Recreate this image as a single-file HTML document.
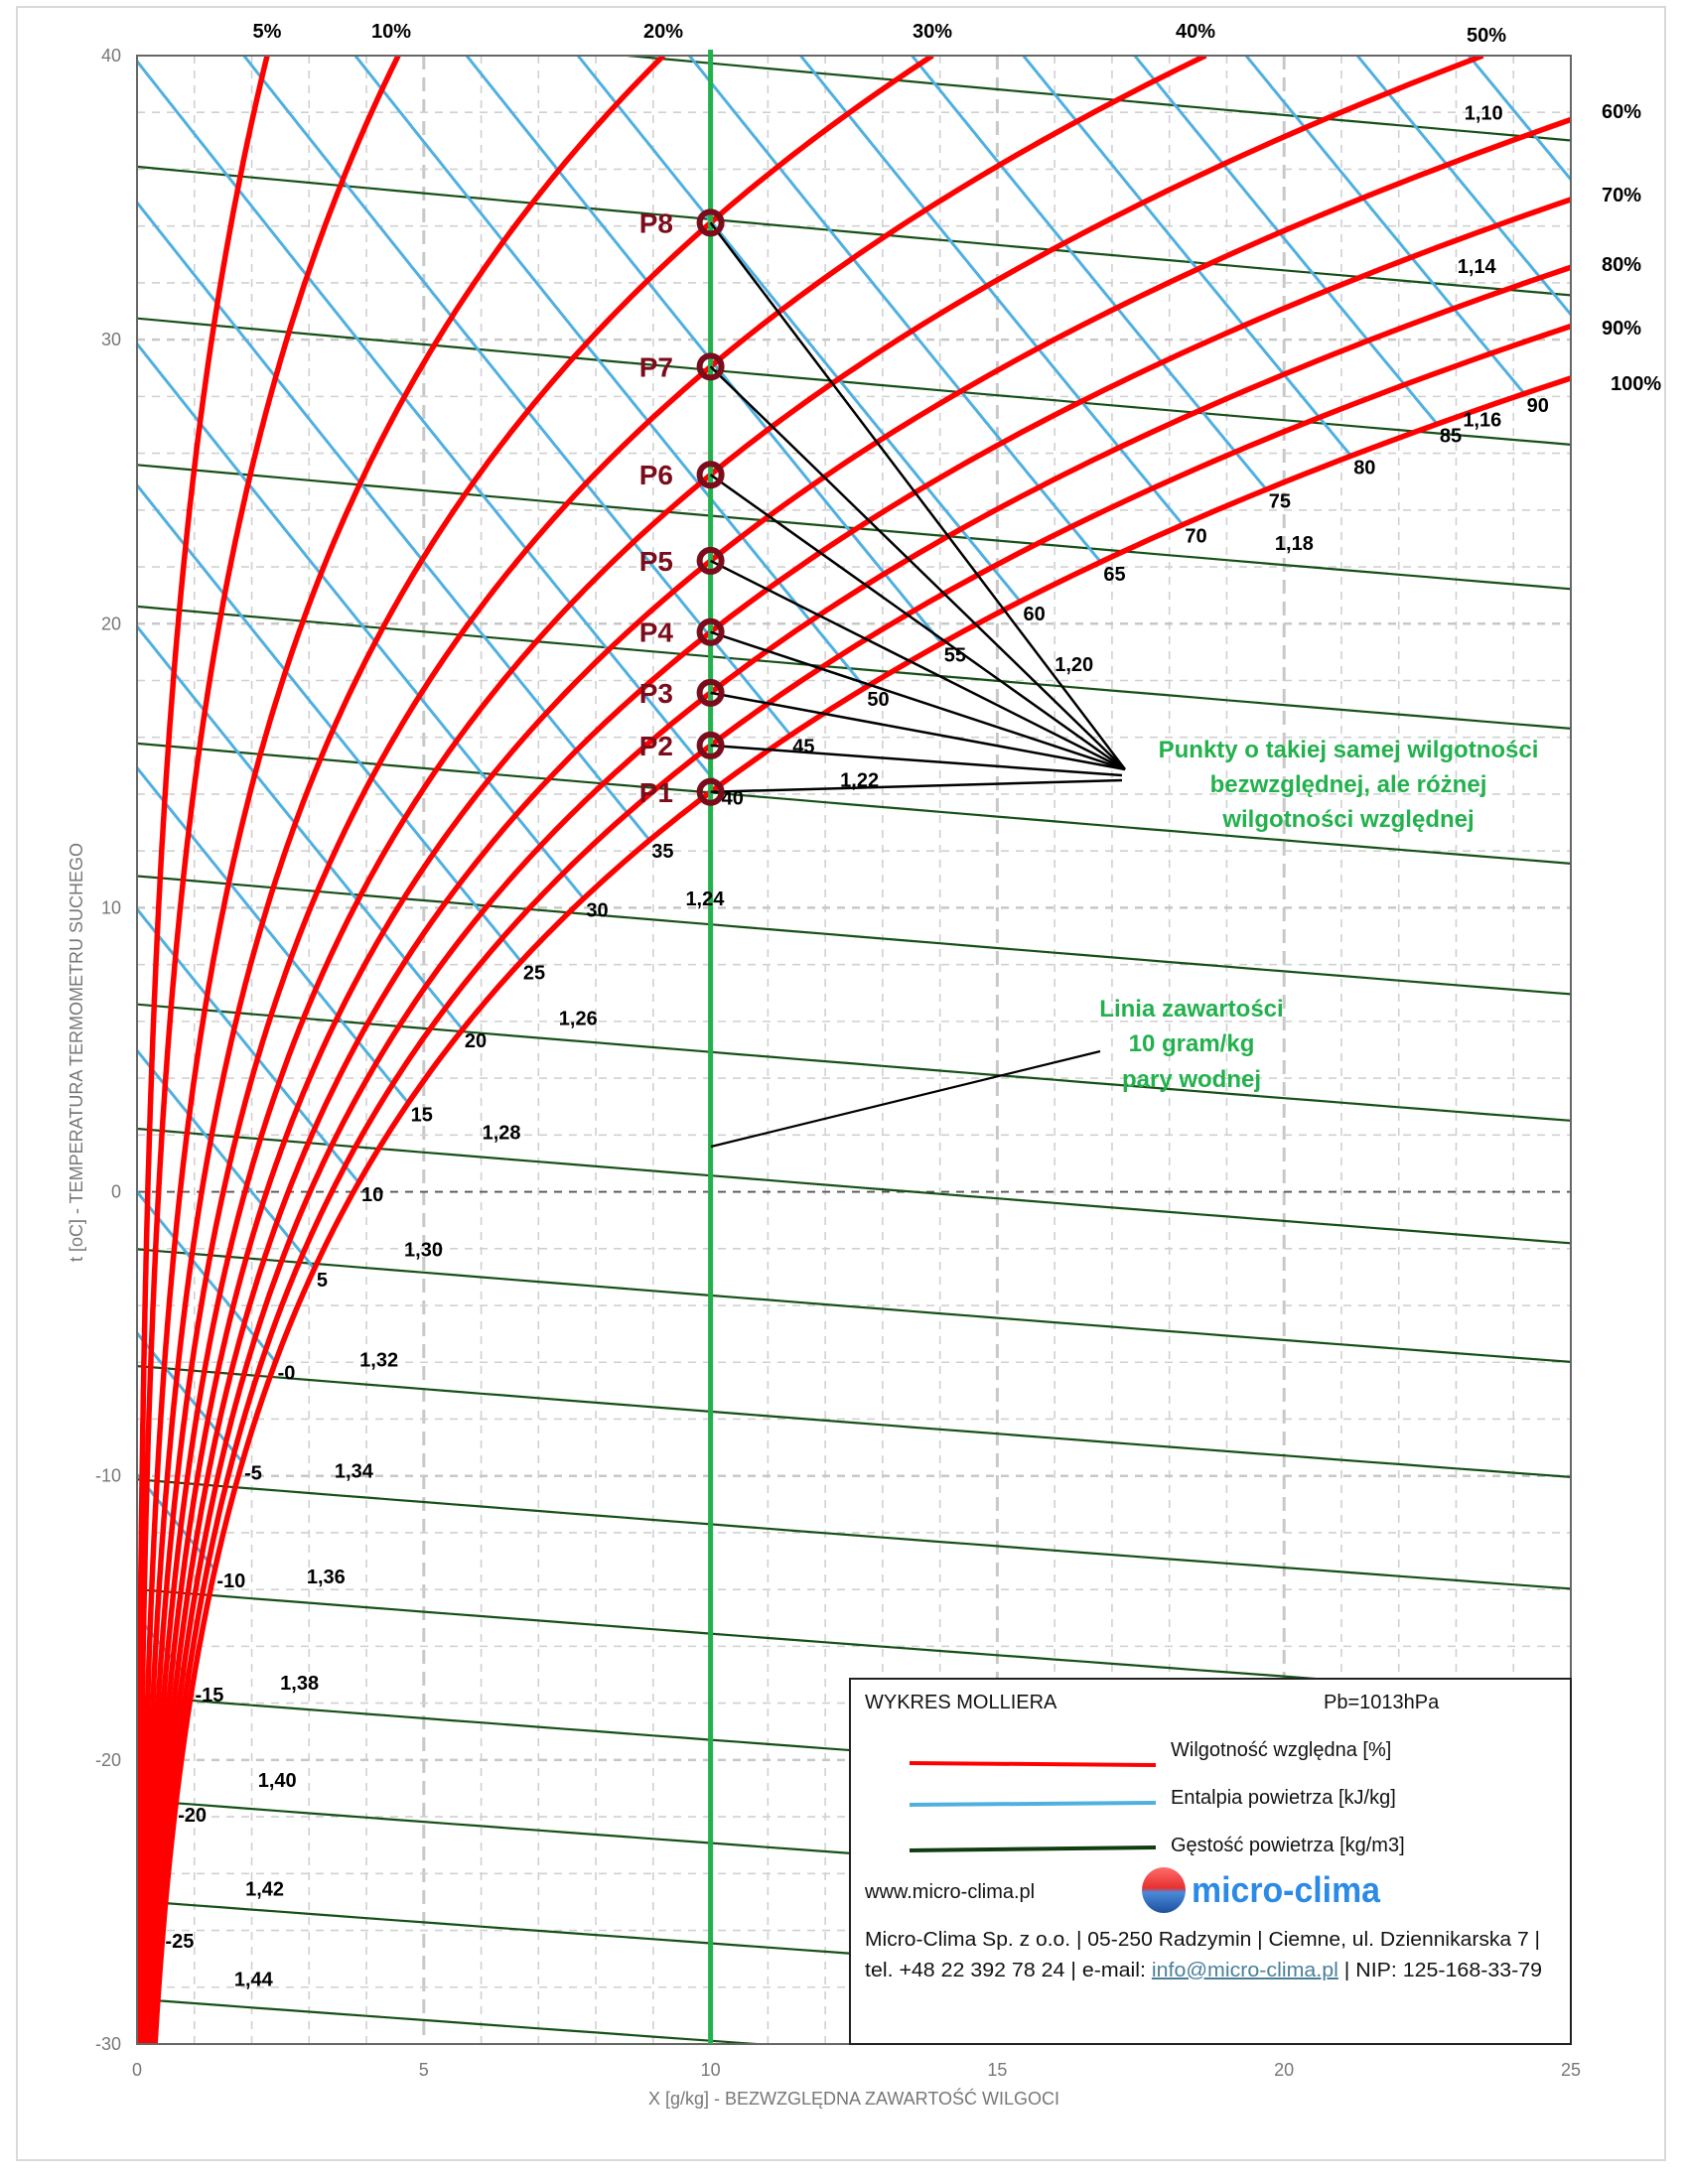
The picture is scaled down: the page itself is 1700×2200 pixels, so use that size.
<!DOCTYPE html>
<html><head><meta charset="utf-8">
<style>
html,body{margin:0;padding:0;background:#fff;}
svg{display:block;}
text{font-family:"Liberation Sans",sans-serif;}
.lbl{font-weight:bold;font-size:20px;fill:#000;}
.tick{font-family:"Liberation Sans Narrow","Liberation Sans",sans-serif;font-size:18px;fill:#777;}
.leg{font-family:"Liberation Sans Narrow","Liberation Sans",sans-serif;font-size:20px;fill:#111;}
.grn{font-weight:bold;font-size:24px;fill:#22b14c;}
.pl{font-weight:bold;font-size:28px;fill:#7b0c1c;}
</style></head><body>
<svg id="s" width="1700" height="2200" viewBox="0 0 1700 2200" xmlns="http://www.w3.org/2000/svg">
<rect x="0" y="0" width="1700" height="2200" fill="#fff"/>
<rect x="17" y="7" width="1660" height="2169" fill="none" stroke="#d9d9d9" stroke-width="2"/>
<defs><clipPath id="cp"><rect x="138" y="56" width="1444" height="2003"/></clipPath></defs>
<g id="grid"></g>
<g id="curves" clip-path="url(#cp)"></g>
<rect x="138" y="56" width="1444" height="2003" fill="none" stroke="#666" stroke-width="2"/>
<g id="over"></g>
<!-- legend -->
<rect x="856" y="1691" width="726" height="368" fill="#fff" stroke="#222" stroke-width="2"/>
<text class="leg" x="871" y="1721">WYKRES MOLLIERA</text>
<text class="leg" x="1333" y="1721">Pb=1013hPa</text>
<line x1="916" y1="1776" x2="1164" y2="1778" stroke="#ff0000" stroke-width="4"/>
<text class="leg" x="1179" y="1769">Wilgotność względna [%]</text>
<line x1="916" y1="1818" x2="1164" y2="1816" stroke="#4fb0e0" stroke-width="4"/>
<text class="leg" x="1179" y="1817">Entalpia powietrza [kJ/kg]</text>
<line x1="916" y1="1864" x2="1164" y2="1861" stroke="#103d10" stroke-width="4"/>
<text class="leg" x="1179" y="1865">Gęstość powietrza [kg/m3]</text>
<text class="leg" x="871" y="1912">www.micro-clima.pl</text>
<defs><linearGradient id="gl" x1="0" y1="0" x2="0" y2="1">
<stop offset="0" stop-color="#ff6b6b"/><stop offset="0.45" stop-color="#e83030"/><stop offset="0.55" stop-color="#4a8ad8"/><stop offset="1" stop-color="#1d4fa0"/></linearGradient></defs>
<ellipse cx="1172" cy="1904" rx="22" ry="23" fill="url(#gl)"/>
<text x="1200" y="1916" textLength="190" lengthAdjust="spacingAndGlyphs" style="font-family:'Liberation Sans Narrow','Liberation Sans',sans-serif;font-weight:bold;font-size:36px;fill:#2b8ae6;">micro-clima</text>
<text class="leg" x="871" y="1960" textLength="680" lengthAdjust="spacingAndGlyphs">Micro-Clima Sp. z o.o. | 05-250 Radzymin | Ciemne, ul. Dziennikarska 7 |</text>
<text class="leg" x="871" y="1991" textLength="682" lengthAdjust="spacingAndGlyphs">tel. +48 22 392 78 24 | e-mail: <tspan fill="#4a7f9a" text-decoration="underline">info@micro-clima.pl</tspan> | NIP: 125-168-33-79</text>
</svg>
<script>
(function(){
var NS="http://www.w3.org/2000/svg";
function X(x){return 138+x*57.76;}
function Y(t){return 56+(40-t)*28.614;}
function el(p,tag,a,txt){var e=document.createElementNS(NS,tag);for(var k in a)e.setAttribute(k,a[k]);if(txt!=null)e.textContent=txt;p.appendChild(e);return e;}
var grid=document.getElementById('grid'),cur=document.getElementById('curves'),ov=document.getElementById('over');
for(var i=1;i<25;i++){var maj=i%5==0;el(grid,'line',{x1:X(i),y1:56,x2:X(i),y2:2059,stroke:maj?'#c8c8c8':'#d0d0d0','stroke-width':maj?3:1.6,'stroke-dasharray':maj?'14,8':'8,7'});}
for(var t=-28;t<40;t+=2){var z=t==0;el(grid,'line',{x1:138,y1:Y(t),x2:1582,y2:Y(t),stroke:z?'#555':((t%10==0)?'#c8c8c8':'#d0d0d0'),'stroke-width':z?1.8:((t%10==0)?2.5:1.6),'stroke-dasharray':'8,7'});}
function ps(t){return 6.112*Math.exp(17.62*t/(243.12+t));}
function xs(t,phi){var p=phi*ps(t);return 622*p/(1013.25-p);}
[1.12,1.14,1.16,1.18,1.20,1.22,1.24,1.26,1.28,1.30,1.32,1.34,1.36,1.38,1.40,1.42,1.44].forEach(function(r){
 var d='';for(var x=0;x<=25.01;x+=0.5){var T=101325/(287.05*r)*(1+x/1000)/(1+1.6078*x/1000)-273.15-0.4;d+=(x==0?'M':'L')+X(x).toFixed(1)+','+Y(T).toFixed(1);}
 el(cur,'path',{d:d,fill:'none',stroke:'#165016','stroke-width':2.2});
});
for(var h=-30;h<=105;h+=5){
 var pts=[],end=null;
 for(var x=0;x<=25.001;x+=0.02){var t=(h-2.501*x)/(1.005+0.00186*x);
  if(t>40.5)continue; if(t<-31)break;
  if(x>xs(t,1)){end=[x,t];break;}
  pts.push([x,t]);}
 if(pts.length<2)continue;
 var d='M'+pts.map(function(p){return X(p[0]).toFixed(1)+','+Y(p[1]).toFixed(1);}).join('L');
 el(cur,'path',{d:d,fill:'none',stroke:'#4fb0e0','stroke-width':3});
 if(end&&h>=-25&&h<=90){var lp=pts[pts.length-1];
  el(ov,'text',{'class':'lbl',x:X(lp[0])+3,y:Y(lp[1])+19},h==0?'-0':String(h));}
}
[0.05,0.1,0.2,0.3,0.4,0.5,0.6,0.7,0.8,0.9,1.0].forEach(function(phi){
 var d='',first=true;
 for(var t=-30;t<=40.001;t+=0.25){var x=xs(t,phi);d+=(first?'M':'L')+X(x).toFixed(1)+','+Y(t).toFixed(1);first=false;if(x>25.5)break;}
 el(cur,'path',{d:d,fill:'none',stroke:'#ff0000','stroke-width':5.5});
});
el(ov,'line',{x1:X(10),y1:50,x2:X(10),y2:2059,stroke:'#22b14c','stroke-width':5});
function tAt(phi){var lo=-30,hi=40;for(var k=0;k<60;k++){var m=(lo+hi)/2;if(xs(m,phi)<10)lo=m;else hi=m;}return (lo+hi)/2;}
var phis=[1.0,0.9,0.8,0.7,0.6,0.5,0.4,0.3];
var ends=[[1130,786],[1130,781],[1133,775],[1133,775],[1133,775],[1133,775],[1133,775],[1133,775]];
phis.forEach(function(phi,i){var y=Y(tAt(phi));el(ov,'line',{x1:X(10),y1:y,x2:ends[i][0],y2:ends[i][1],stroke:'#000','stroke-width':2.5});});
phis.forEach(function(phi,i){var y=Y(tAt(phi));
 el(ov,'circle',{cx:X(10),cy:y,r:11,fill:'none',stroke:'#7b0c1c','stroke-width':6});
 el(ov,'text',{'class':'pl',x:678,y:y+10,'text-anchor':'end'},'P'+(i+1));});
var dl=[['1,10',1065,81],['1,14',1060,191],['1,16',1064,301],['1,18',929,390],['1,20',771,477],['1,22',617,560],['1,24',506,645],['1,26',415,731],['1,28',360,813],['1,30',304,897],['1,32',272,976],['1,34',254,1056],['1,36',234,1132],['1,38',215,1208],['1,40',199,1278],['1,42',190,1356],['1,44',182,1421]];
dl.forEach(function(a){el(ov,'text',{'class':'lbl',x:a[1]*1.403,y:a[2]*1.403+7,'text-anchor':'middle'},a[0]);});
var rl=[['5%',269,38],['10%',394,38],['20%',668,38],['30%',939,38],['40%',1204,38],['50%',1497,42],['60%',1613,119],['70%',1613,203],['80%',1613,273],['90%',1613,337],['100%',1622,393]];
rl.forEach(function(a){el(ov,'text',{'class':'lbl',x:a[1],y:a[2],'text-anchor':a[1]>1600?'start':'middle'},a[0]);});
for(var t=-30;t<=40;t+=10)el(ov,'text',{'class':'tick',x:122,y:Y(t)+6,'text-anchor':'end'},String(t));
for(var x=0;x<=25;x+=5)el(ov,'text',{'class':'tick',x:X(x),y:2091,'text-anchor':'middle'},String(x));
el(ov,'text',{'class':'tick',x:860,y:2120,'text-anchor':'middle'},'X [g/kg] - BEZWZGLĘDNA ZAWARTOŚĆ WILGOCI');
el(ov,'text',{'class':'tick',x:0,y:0,'text-anchor':'middle',transform:'translate(83,1060) rotate(-90)'},'t [oC] - TEMPERATURA TERMOMETRU SUCHEGO');
el(ov,'line',{x1:716,y1:1155,x2:1108,y2:1059,stroke:'#000','stroke-width':2.2});
[['Punkty o takiej samej wilgotności',763],['bezwzględnej, ale różnej',798],['wilgotności względnej',833]].forEach(function(a){el(ov,'text',{'class':'grn',x:1358,y:a[1],'text-anchor':'middle'},a[0]);});
[['Linia zawartości',1024],['10 gram/kg',1059],['pary wodnej',1095]].forEach(function(a){el(ov,'text',{'class':'grn',x:1200,y:a[1],'text-anchor':'middle'},a[0]);});
})();
</script>
</body></html>
